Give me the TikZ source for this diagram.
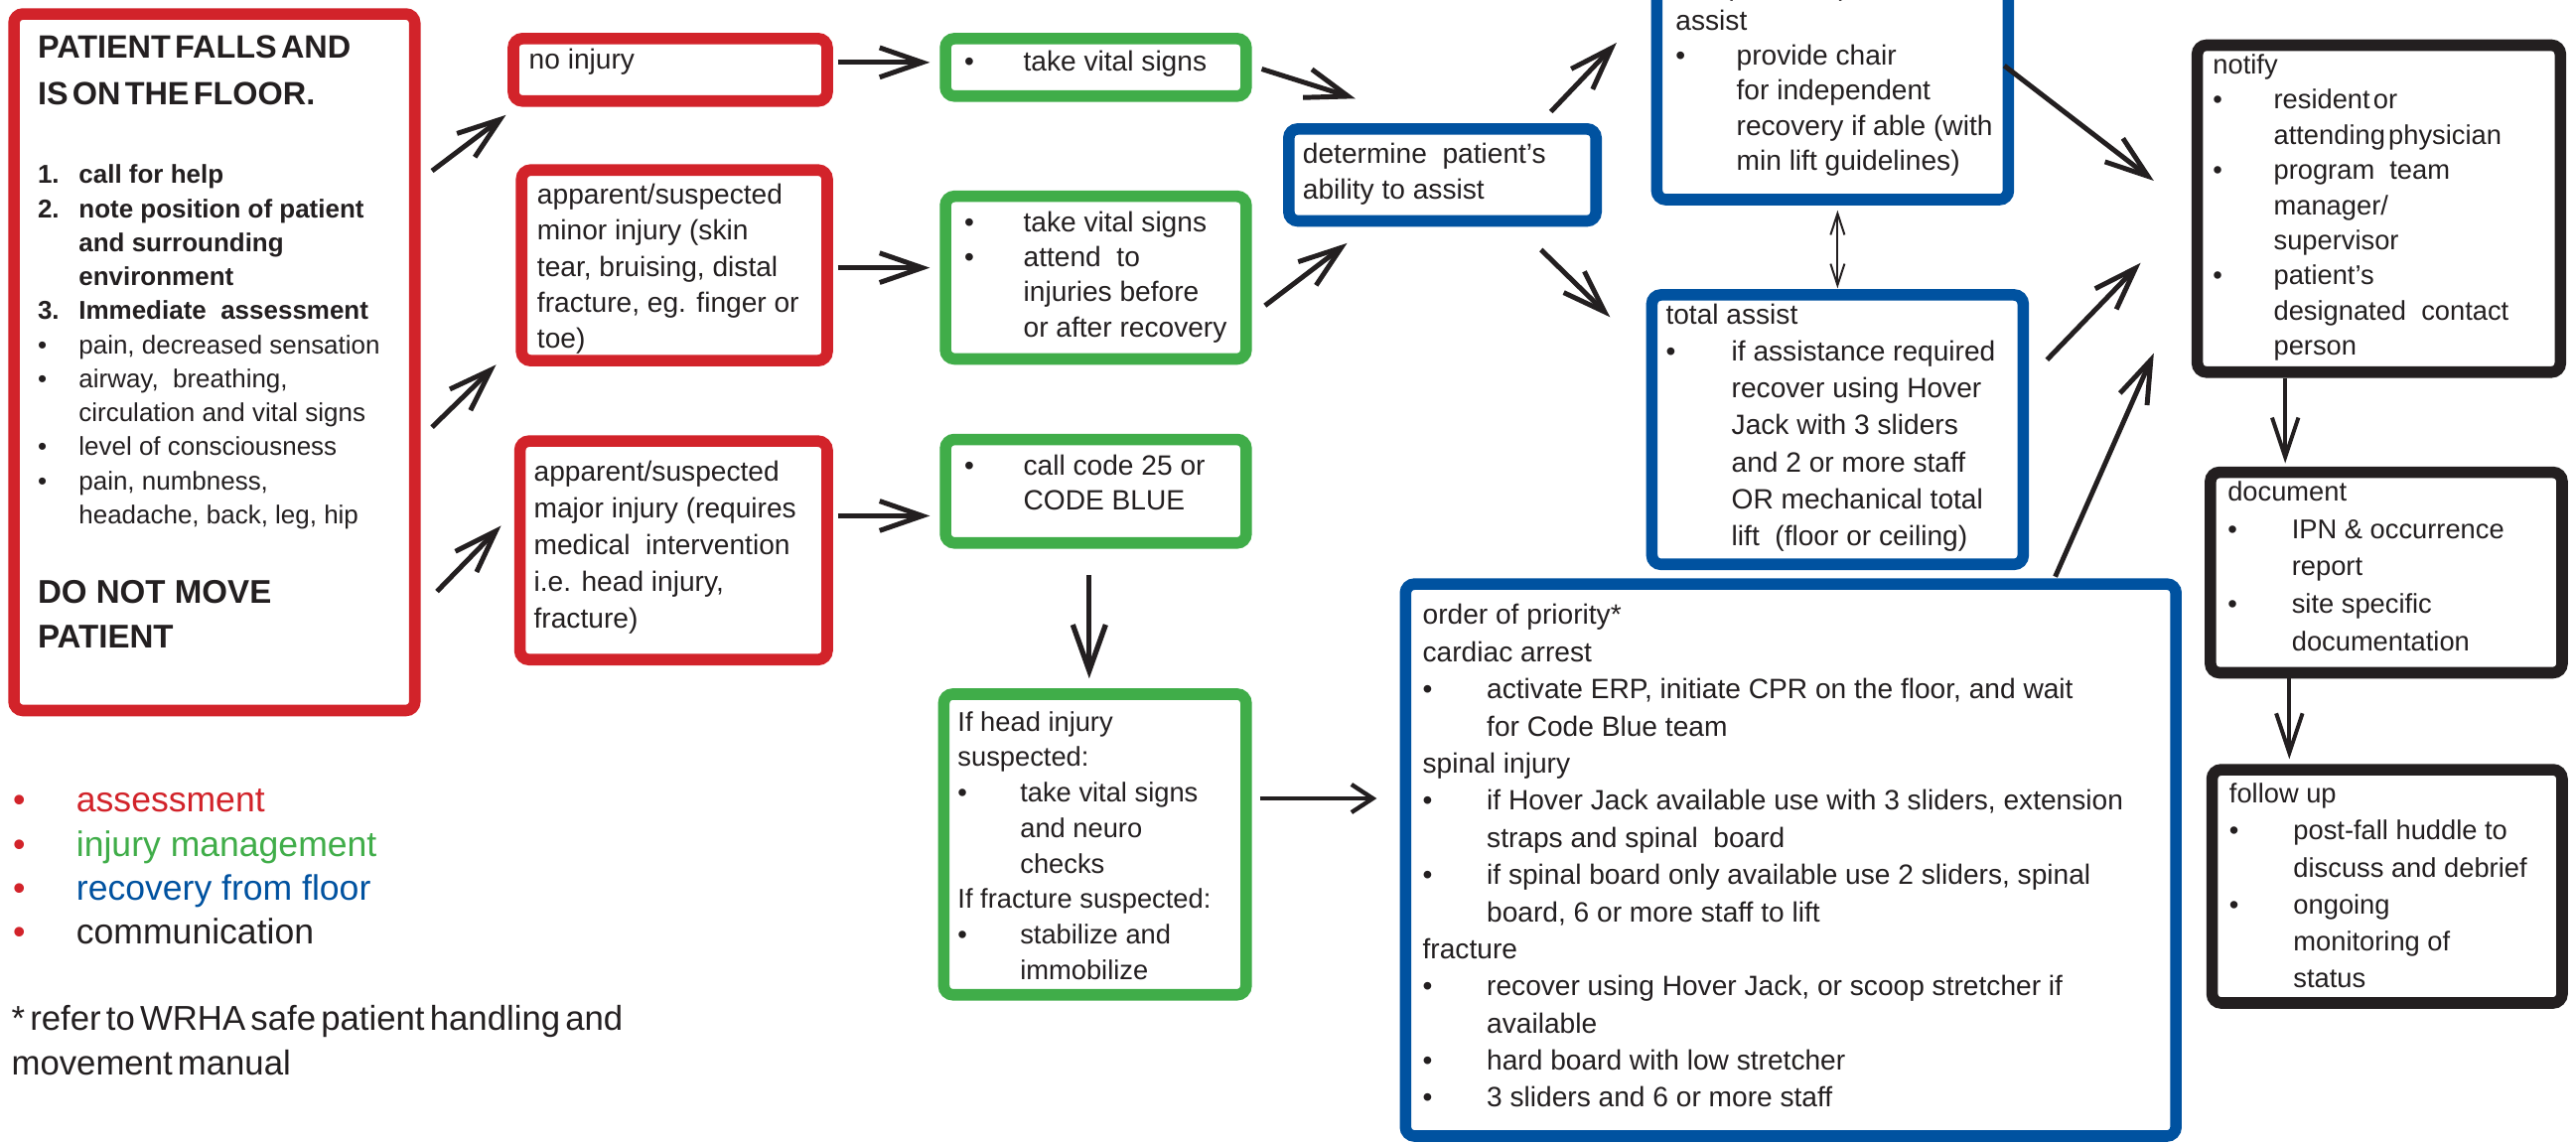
\documentclass[tikz,border=0pt]{standalone}
\usepackage{fontspec}
\setmainfont{Liberation Sans}
\usetikzlibrary{arrows.meta}
\definecolor{cred}{RGB}{210,35,42}
\definecolor{cgreen}{RGB}{64,173,73}
\definecolor{cblue}{RGB}{0,82,160}
\definecolor{ink}{RGB}{35,31,32}
\newcommand\fl{\rule{0pt}{0.95em}}
\newcommand\bu[1]{\makebox[#1][l]{•}}
\newcommand\ind[1]{\hspace*{#1}}
\newcommand\fsz[2]{\fontsize{#1}{#2}\selectfont}
\newcommand\hs{\hspace{0.13em}}
\newcommand\ns{\hspace{0.15em}}
\begin{document}
\begin{tikzpicture}[x=1pt,y=-1pt,
  boxbase/.style={draw, line width=7pt, rounded corners=5.5pt, inner sep=0pt, outer sep=3.5pt},
  redbox/.style={boxbase, draw=cred},
  greenbox/.style={boxbase, draw=cgreen},
  bluebox/.style={boxbase, draw=cblue},
  blackbox/.style={boxbase, draw=ink},
  txt/.style={anchor=north west, inner sep=0pt, outer sep=0pt, align=left, text=ink},
  arr/.style={draw=ink, line width=3pt, -{Straight Barb[length=26pt,width=18pt]}},
  arrv/.style={draw=ink, line width=3.2pt, -{Straight Barb[length=28pt,width=20pt]}},
  arrk/.style={draw=ink, line width=2.4pt, -{Straight Barb[length=24pt,width=16pt]}},
  arrsm/.style={draw=ink, line width=2.6pt, -{Straight Barb[length=13pt,width=17pt]}},
  dbl/.style={draw=ink, line width=1.2pt, {Straight Barb[length=13pt,width=8.5pt]}-{Straight Barb[length=13pt,width=8.5pt]}}
]
\useasboundingbox (0,0) rectangle (1568,696);
\fill[white] (0,0) rectangle (1568,696);
\clip (0,0) rectangle (1568,696);

% ---------- boxes ----------
\node[redbox, minimum width=244pt, minimum height=424pt] (main) at (130.5,220.5) {};
\node[redbox, minimum width=191pt, minimum height=38pt] (noinj) at (408,42.5) {};
\node[redbox, minimum width=186pt, minimum height=116pt] (minor) at (410.5,161.5) {};
\node[redbox, minimum width=187pt, minimum height=133pt] (major) at (410,335) {};
\node[greenbox, minimum width=183pt, minimum height=35pt] (gvital) at (667,41) {};
\node[greenbox, minimum width=183pt, minimum height=99pt] (gminor) at (667,169) {};
\node[greenbox, minimum width=183pt, minimum height=63pt] (gcode) at (667,299) {};
\node[greenbox, minimum width=184pt, minimum height=183pt] (ghead) at (666.5,514) {};
\node[bluebox, minimum width=187pt, minimum height=56pt] (det) at (878,106.5) {};
\node[bluebox, minimum width=214pt, minimum height=158pt] (partial) at (1115.5,42.5) {};
\node[bluebox, minimum width=226pt, minimum height=164pt] (total) at (1118.5,261.5) {};
\node[bluebox, minimum width=469pt, minimum height=336pt] (prio) at (1090,523.5) {};
\node[blackbox, minimum width=221pt, minimum height=199pt] (notify) at (1448,127) {};
\node[blackbox, minimum width=214pt, minimum height=122pt] (doc) at (1452.5,348.5) {};
\node[blackbox, minimum width=213pt, minimum height=142pt] (follow) at (1453,539.5) {};

% ---------- texts ----------
\node[txt, font=\fsz{19.6}{28.5}\bfseries] (tmainA) at (23,16.9)
  {\fl PATIENT\hs FALLS\hs AND\\IS\hs ON\hs THE\hs FLOOR.};
\node[txt, font=\fsz{15.7}{20.7}] (tmainB) at (23,96.8)
  {\fl\makebox[25pt][l]{\textbf{1.}}\textbf{call for help}\\
   \makebox[25pt][l]{\textbf{2.}}\textbf{note position of patient}\\
   \ind{25pt}\textbf{and surrounding}\\
   \ind{25pt}\textbf{environment}\\
   \makebox[25pt][l]{\textbf{3.}}\textbf{Immediate\ \ assessment}\\
   \bu{25pt}pain, decreased sensation\\
   \bu{25pt}airway,\ \ breathing,\\
   \ind{25pt}circulation and vital signs\\
   \bu{25pt}level of consciousness\\
   \bu{25pt}pain, numbness,\\
   \ind{25pt}headache, back, leg, hip};
\node[txt, font=\fsz{20}{27}\bfseries] (tmainC) at (23,348.2)
  {\fl DO NOT MOVE\\PATIENT};

\node[txt, font=\fsz{17}{22}] (tnoinj) at (322,26) {\fl no injury};
\node[txt, font=\fsz{17}{22}] (tminor) at (327,108)
  {\fl apparent/suspected\\minor injury (skin\\tear, bruising, distal\\fracture, eg. finger or\\toe)};
\node[txt, font=\fsz{17}{22.3}] (tmajor) at (325,277)
  {\fl apparent/suspected\\major injury (requires\\medical\ \ intervention\\i.e. head injury,\\fracture)};

\node[txt, font=\fsz{17}{22}] (tgvital) at (587,27) {\fl\bu{36pt}take vital signs};
\node[txt, font=\fsz{17}{21.3}] (tgminor) at (587,125)
  {\fl\bu{36pt}take vital signs\\\bu{36pt}attend\ \ to\\\ind{36pt}injuries before\\\ind{36pt}or after recovery};
\node[txt, font=\fsz{17}{21}] (tgcode) at (587,273)
  {\fl\bu{36pt}call code 25 or\\\ind{36pt}CODE BLUE};
\node[txt, font=\fsz{16.5}{21.6}] (tghead) at (583,429.3)
  {\fl If head injury\\suspected:\\\bu{38pt}take vital signs\\\ind{38pt}and neuro\\\ind{38pt}checks\\If fracture suspected:\\\bu{38pt}stabilize and\\\ind{38pt}immobilize};

\node[txt, font=\fsz{17}{22}] (tdet) at (793,83)
  {\fl determine\ \ patient’s\\ability to assist};
\node[txt, font=\fsz{17}{21.3}] (tpartial) at (1020,-19)
  {\fl independent/partial\\assist\\\bu{37pt}provide chair\\\ind{37pt}for independent\\\ind{37pt}recovery if able (with\\\ind{37pt}min lift guidelines)};
\node[txt, font=\fsz{17}{22.5}] (ttotal) at (1014,181)
  {\fl total assist\\\bu{40pt}if assistance required\\\ind{40pt}recover using Hover\\\ind{40pt}Jack with 3 sliders\\\ind{40pt}and 2 or more staff\\\ind{40pt}OR mechanical total\\\ind{40pt}lift\ \ (floor or ceiling)};
\node[txt, font=\fsz{17}{22.6}] (tprio) at (866,364)
  {\fl order of priority*\\
   cardiac arrest\\
   \bu{39pt}activate ERP, initiate CPR on the floor, and wait\\
   \ind{39pt}for Code Blue team\\
   spinal injury\\
   \bu{39pt}if Hover Jack available use with 3 sliders, extension\\
   \ind{39pt}straps and spinal\ \ board\\
   \bu{39pt}if spinal board only available use 2 sliders, spinal\\
   \ind{39pt}board, 6 or more staff to lift\\
   fracture\\
   \bu{39pt}recover using Hover Jack, or scoop stretcher if\\
   \ind{39pt}available\\
   \bu{39pt}hard board with low stretcher\\
   \bu{39pt}3 sliders and 6 or more staff};

\node[txt, font=\fsz{16.5}{21.4}] (tnotify) at (1347,29.3)
  {\fl notify\\\bu{37pt}resident\hspace{0.12em}or\\\ind{37pt}attending\hspace{0.12em}physician\\\bu{37pt}program\ \ team\\\ind{37pt}manager/\\\ind{37pt}supervisor\\\bu{37pt}patient’s\\\ind{37pt}designated\ \ contact\\\ind{37pt}person};
\node[txt, font=\fsz{16.5}{22.75}] (tdoc) at (1356,289.3)
  {\fl document\\\bu{39pt}IPN \& occurrence\\\ind{39pt}report\\\bu{39pt}site specific\\\ind{39pt}documentation};
\node[txt, font=\fsz{16.5}{22.4}] (tfollow) at (1357,473.3)
  {\fl follow up\\\bu{39pt}post-fall huddle to\\\ind{39pt}discuss and debrief\\\bu{39pt}ongoing\\\ind{39pt}monitoring of\\\ind{39pt}status};

% ---------- legend ----------
\node[txt, font=\fsz{21.5}{26.7}] (tlegend) at (8,474)
  {\fl\makebox[38.5pt][l]{\color{cred}•}{\color{cred}assessment}\\
   \makebox[38.5pt][l]{\color{cred}•}{\color{cgreen}injury management}\\
   \makebox[38.5pt][l]{\color{cred}•}{\color{cblue}recovery from floor}\\
   \makebox[38.5pt][l]{\color{cred}•}communication};
\node[txt, font=\fsz{21}{27}] (tnote) at (7,607.3)
  {\fl *\ns refer\ns to\ns WRHA\ns safe\ns patient\ns handling\ns and\\movement\ns manual};

% ---------- connectors ----------
\draw[arr] ([shift={(7,99)}]main.north east) -- ([shift={(-1,5)}]noinj.south west);
\draw[arr] ([shift={(7,255)}]main.north east) -- ([shift={(-12,-1)}]minor.south west);
\draw[arr] ([shift={(10,355)}]main.north east) -- ([shift={(-8,-15)}]major.west);
\draw[arr] ([shift={(3,-4.5)}]noinj.east) -- ([shift={(-6,-3)}]gvital.west);
\draw[arr] ([shift={(3,1.5)}]minor.east) -- ([shift={(-6,-6)}]gminor.west);
\draw[arr] ([shift={(3,-21)}]major.east) -- ([shift={(-6,15)}]gcode.west);
\draw[arrv] ([shift={(-4,16)}]gcode.south) -- ([shift={(-3.5,-6)}]ghead.north);
\draw[arrsm] ([shift={(5,-28)}]ghead.east) -- ([shift={(-14,-37.5)}]prio.west);
\draw[arr] ([shift={(6,1)}]gvital.east) -- ([shift={(44,-15)}]det.north west);
\draw[arr] ([shift={(8,17)}]gminor.east) -- ([shift={(39,10)}]det.south west);
\draw[arr] ([shift={(-31,-7)}]det.north east) -- ([shift={(-21,-16.5)}]partial.west);
\draw[arr] ([shift={(-37,14)}]det.south east) -- ([shift={(-22,-68.5)}]total.west);
\draw[dbl] ([shift={(3,3)}]partial.south) -- ([shift={(0,-0.5)}]total.north);
\draw[arr] ([shift={(-6,-2.5)}]partial.east) -- ([shift={(-23,-17)}]notify.west);
\draw[arr] ([shift={(11,-42.5)}]total.east) -- ([shift={(-31,-70)}]notify.south west);
\draw[arr] ([shift={(-77,-1)}]prio.north east) -- ([shift={(-23,-15)}]notify.south west);
\draw[arrk] ([shift={(-57,0)}]notify.south) -- ([shift={(-61.5,-2)}]doc.north);
\draw[arrk] ([shift={(-59,0)}]doc.south) -- ([shift={(-59.5,-3)}]follow.north);
\end{tikzpicture}
\end{document}
